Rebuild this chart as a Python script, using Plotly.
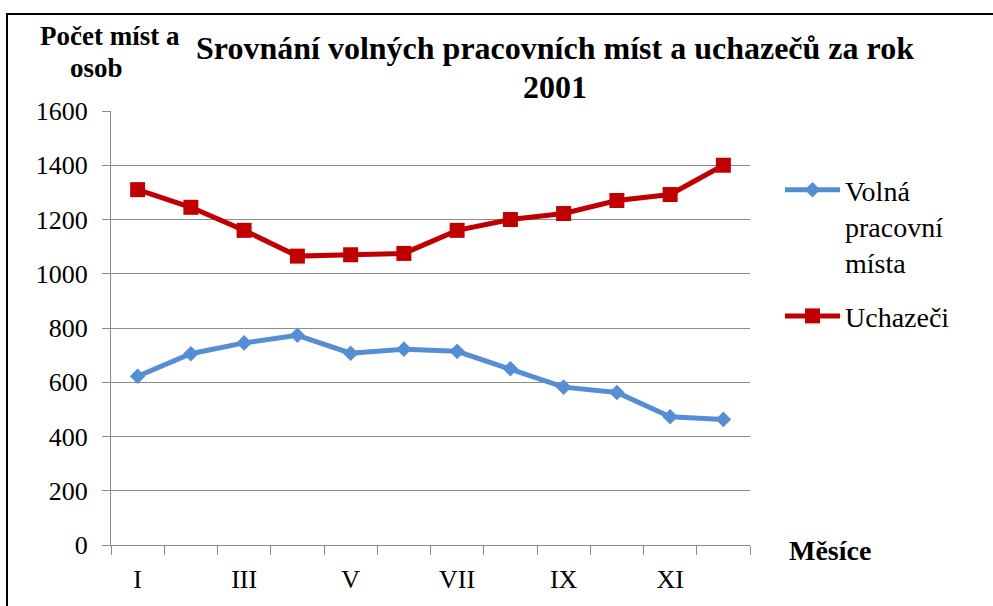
import plotly.graph_objects as go

months = ["I", "II", "III", "IV", "V", "VI", "VII", "VIII", "IX", "X", "XI", "XII"]
volna_mista = [622, 705, 745, 773, 707, 722, 714, 650, 582, 562, 473, 463]
uchazeci = [1310, 1245, 1160, 1065, 1070, 1075, 1160, 1200, 1222, 1270, 1292, 1400]
y_ticks = [0, 200, 400, 600, 800, 1000, 1200, 1400, 1600]

xpos = list(range(1, len(months) + 1))
FONT = "'Liberation Serif', 'Times New Roman', Times, 'DejaVu Serif', serif"
GRID = "#8c8c8c"

fig = go.Figure()
fig.add_trace(go.Scatter(
    x=xpos, y=volna_mista, mode="lines+markers",
    name="Volná<br>pracovní<br>místa", legendgroup="a",
    line=dict(color="#558ED5", width=5),
    marker=dict(symbol="diamond", size=12, color="#558ED5"),
))
fig.add_trace(go.Scatter(
    x=xpos, y=uchazeci, mode="lines+markers",
    name="Uchazeči", legendgroup="b",
    line=dict(color="#C00000", width=5),
    marker=dict(symbol="square", size=15, color="#C00000"),
))

L, R, T, B = 111, 243, 111, 61
W, H = 993, 606
pw, ph = W - L - R, H - T - B

def px(x):
    return (x - L) / pw

def py(y):
    return (H - B - y) / ph

fig.update_layout(
    width=W, height=H,
    margin=dict(l=L, r=R, t=T, b=B, autoexpand=False),
    paper_bgcolor="white", plot_bgcolor="white",
    font=dict(family=FONT, size=26, color="black"),
    showlegend=True,
    legend=dict(
        x=px(780), y=py(165), xanchor="left", yanchor="top",
        font=dict(family=FONT, size=28, color="black"),
        valign="top", tracegroupgap=14, itemwidth=55,
        bgcolor="rgba(0,0,0,0)",
    ),
    xaxis=dict(
        range=[0.5, len(months) + 0.5], automargin=False,
        tickmode="array", tickvals=xpos[::2], ticktext=months[::2],
        ticks="", showgrid=False, zeroline=False,
        showline=True, linecolor=GRID, linewidth=1,
        ticklabelstandoff=11,
        tickfont=dict(family=FONT, size=26, color="black"),
        minor=dict(tickmode="array",
                   tickvals=[i + 0.5 for i in range(len(months) + 1)],
                   ticks="outside", ticklen=9, tickcolor=GRID, tickwidth=1,
                   showgrid=False),
    ),
    yaxis=dict(
        range=[0, 1600], tickmode="array", tickvals=y_ticks, automargin=False,
        showgrid=True, gridcolor=GRID, gridwidth=1,
        zeroline=False, showline=True, linecolor=GRID, linewidth=1,
        ticks="outside", ticklen=8, tickcolor=GRID,
        ticklabelstandoff=9,
        tickfont=dict(family=FONT, size=26, color="black"),
    ),
    shapes=[dict(type="rect", xref="paper", yref="paper",
                 x0=px(7), x1=px(1010), y0=py(640), y1=py(14),
                 line=dict(color="black", width=2), layer="above")],
    annotations=[
        dict(text="<b>Srovnání volných pracovních míst a uchazečů za rok</b>",
             x=px(555), y=py(48), xref="paper", yref="paper",
             xanchor="center", yanchor="middle", showarrow=False,
             font=dict(family=FONT, size=32)),
        dict(text="<b>2001</b>",
             x=px(555), y=py(87), xref="paper", yref="paper",
             xanchor="center", yanchor="middle", showarrow=False,
             font=dict(family=FONT, size=32)),
        dict(text="<b>Počet míst a</b>",
             x=px(110), y=py(36), xref="paper", yref="paper",
             xanchor="center", yanchor="middle", showarrow=False,
             font=dict(family=FONT, size=27)),
        dict(text="<b>osob</b>",
             x=px(96), y=py(68), xref="paper", yref="paper",
             xanchor="center", yanchor="middle", showarrow=False,
             font=dict(family=FONT, size=27)),
        dict(text="<b>Měsíce</b>",
             x=px(830), y=py(550), xref="paper", yref="paper",
             xanchor="center", yanchor="middle", showarrow=False,
             font=dict(family=FONT, size=28)),
    ],
)

fig.write_html("out.html", config={"displayModeBar": False},
               post_script="document.body.style.margin='0';")
